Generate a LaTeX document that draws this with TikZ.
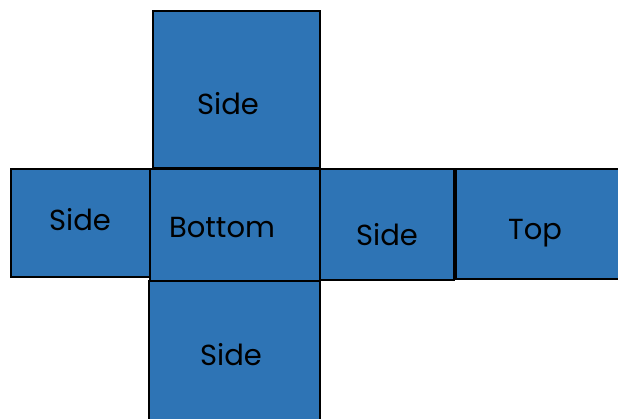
\documentclass[tikz,border=0pt]{standalone}
\usepackage{fontspec}
\setmainfont{Poppins}
\begin{document}
\begin{tikzpicture}[x=1pt,y=-1pt,
  face/.style={draw=black,line width=2pt,fill={rgb,255:red,46;green,116;blue,181}},
  lbl/.style={font=\fontsize{29}{33}\selectfont,text=black,inner sep=0pt}]
\useasboundingbox (0,0) rectangle (618,419);
\filldraw[face] (153,11) rectangle (320,168);
\filldraw[face] (11,169) rectangle (150,277);
\filldraw[face] (149,281) rectangle (320,425);
\filldraw[face] (150,169) rectangle (320,281);
\filldraw[face] (320,169) rectangle (454,280);
\filldraw[face] (456,169) rectangle (625,279);
\node[lbl] (s1) at (228,104) {Side};
\node[lbl] (s2) at (80,220) {Side};
\node[lbl] (b) at (222,228) {Bottom};
\node[lbl] (s3) at (387,235) {Side};
\node[lbl] (t) at (535,233) {Top};
\node[lbl] (s4) at (231,355) {Side};
\end{tikzpicture}
\end{document}
